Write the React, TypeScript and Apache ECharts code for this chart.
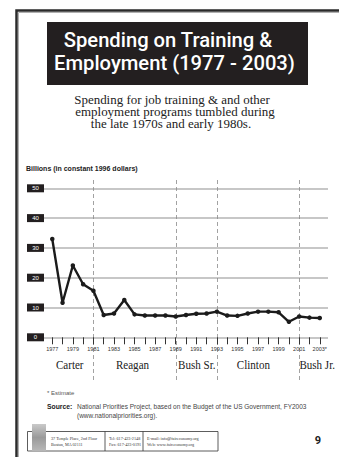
import React, { useEffect, useRef } from "react";
import * as echarts from "echarts";

const years = [1977, 1978, 1979, 1980, 1981, 1982, 1983, 1984, 1985, 1986, 1987, 1988, 1989, 1990, 1991, 1992, 1993, 1994, 1995, 1996, 1997, 1998, 1999, 2000, 2001, 2002, 2003];
const spending = [33.0, 11.6, 24.1, 17.8, 15.6, 7.5, 8.0, 12.5, 7.7, 7.3, 7.3, 7.3, 7.0, 7.5, 7.9, 8.0, 8.6, 7.3, 7.2, 8.0, 8.6, 8.6, 8.4, 5.2, 7.0, 6.6, 6.5];
const labeledYears = [1977, 1979, 1981, 1983, 1985, 1987, 1989, 1991, 1993, 1995, 1997, 1999, 2001, 2003];
const estimatedYears = [2003];
const presidents = ["Carter", "Reagan", "Bush Sr.", "Clinton", "Bush Jr."];
const presidentLabelYears = [1978.7, 1984.8, 1991.05, 1996.55, 2002.75];
const termBoundaries = [1981, 1989, 1993, 2001];

const titleLines = ["Spending on Training &", "Employment (1977 - 2003)"];
const subtitleLines = [
  "Spending for job training & and other",
  "employment programs tumbled during",
  "the late 1970s and early 1980s.",
];
const yAxisName = "Billions (in constant 1996 dollars)";
const noteText = "* Estimate";
const sourceLines = [
  "National Priorities Project, based on the Budget of the US Government, FY2003",
  "(www.nationalpriorities.org).",
];
const footerCols = [
  ["37 Temple Place, 2nd Floor", "Boston, MA 02111"],
  ["Tel: 617-423-2148", "Fax: 617-423-0191"],
  ["E-mail: info@faireconomy.org", "Web: www.faireconomy.org"],
];
const pageNumber = "9";

export default function App() {
  const ref = useRef<HTMLDivElement>(null);
  useEffect(() => {
    const chart = echarts.init(ref.current!, null, { renderer: "svg" });
    const narrow = "'Liberation Sans Narrow', 'Arial Narrow', sans-serif";
    const serif = "'Liberation Serif', 'DejaVu Serif', serif";
    chart.setOption({
      animation: false,
      grid: { left: 43, right: 11, top: 188.3, bottom: 119.7 },
      xAxis: {
        type: "value",
        min: 1976.1,
        max: 2003.8,
        axisLine: { show: false },
        splitLine: { show: false },
        axisTick: {
          show: true,
          length: 7,
          customValues: years,
          lineStyle: { color: "#333", width: 1 },
        },
        axisLabel: {
          customValues: labeledYears,
          margin: 9,
          fontFamily: narrow,
          fontSize: 5.5,
          color: "#333",
          formatter: (v: number) => (estimatedYears.includes(v) ? v + "*" : String(v)),
        },
      },
      yAxis: {
        type: "value",
        min: 0,
        max: 50,
        interval: 10,
        axisLine: { show: false },
        axisTick: { show: false },
        splitLine: { show: true, lineStyle: { color: "#b5b5b5", width: 1.6 } },
        axisLabel: {
          margin: -1,
          formatter: "{b|{value}}",
          backgroundColor: "#231f20",
          padding: [1, 4, 1, 4],
          rich: {
            b: {
              width: 9,
              align: "center",
              color: "#fff",
              fontFamily: narrow,
              fontSize: 6,
              lineHeight: 6,
            },
          },
        },
      },
      series: [
        {
          type: "line",
          data: years.map((y, i) => [y, spending[i]]),
          symbol: "circle",
          symbolSize: 4.5,
          lineStyle: { color: "#1b1b1b", width: 2.4 },
          itemStyle: { color: "#1b1b1b" },
        },
      ],
    });

    const px = (v: number) => chart.convertToPixel({ xAxisIndex: 0 }, v) as number;
    const els: any[] = [];
    // frame
    els.push({
      type: "polyline",
      shape: { points: [[18.5, 457], [18.5, 12.5], [339, 12.5]] },
      style: { stroke: "#b0b0b0", lineWidth: 1, fill: null },
    });
    els.push({
      type: "polyline",
      shape: { points: [[16.5, 457], [16.5, 10.5], [339, 10.5]] },
      style: { stroke: "#2b2b2b", lineWidth: 2.5, fill: null },
    });
    // title box
    els.push({ type: "rect", shape: { x: 47, y: 22, width: 261, height: 63 }, style: { fill: "#231f20" } });
    const titleX = [168, 174.5];
    titleLines.forEach((t, i) => {
      els.push({
        type: "text",
        x: titleX[i],
        y: 40 + i * 23.3,
        style: { text: t, fill: "#fff", fontFamily: "Roboto, sans-serif", fontWeight: 500, fontSize: 20.2, align: "center", verticalAlign: "middle" },
      });
    });
    const subX = [172, 175, 171];
    subtitleLines.forEach((t, i) => {
      els.push({
        type: "text",
        x: subX[i],
        y: 100.5 + i * 12,
        scaleX: 1.08,
        style: { text: t, fill: "#222", fontFamily: serif, fontSize: 12, align: "center", verticalAlign: "middle" },
      });
    });
    els.push({
      type: "text",
      x: 26,
      y: 168,
      style: { text: yAxisName, fill: "#222", fontFamily: narrow, fontWeight: "bold", fontSize: 7, align: "left", verticalAlign: "middle" },
    });
    termBoundaries.forEach((yr) => {
      const x = Math.round(px(yr)) + 0.5;
      els.push({
        type: "line",
        shape: { x1: x, y1: 180, x2: x, y2: 383 },
        style: { stroke: "#8a8a8a", lineWidth: 0.8, lineDash: [4, 3] },
      });
    });
    presidents.forEach((p, i) => {
      els.push({
        type: "text",
        x: px(presidentLabelYears[i]),
        y: 365,
        scaleX: 0.85,
        style: { text: p, fill: "#222", fontFamily: serif, fontSize: 13, align: "center", verticalAlign: "middle" },
      });
    });
    els.push({
      type: "text",
      x: 47,
      y: 392.5,
      style: { text: noteText, fill: "#555", fontFamily: narrow, fontSize: 6, align: "left", verticalAlign: "middle" },
    });
    els.push({
      type: "text",
      x: 47,
      y: 406.7,
      style: { text: "Source:", fill: "#222", fontFamily: narrow, fontWeight: "bold", fontSize: 6.8, align: "left", verticalAlign: "middle" },
    });
    sourceLines.forEach((t, i) => {
      els.push({
        type: "text",
        x: 77,
        y: 406.7 + i * 9,
        style: { text: t, fill: "#444", fontFamily: narrow, fontSize: 6.5, align: "left", verticalAlign: "middle" },
      });
    });
    // footer
    els.push({ type: "rect", shape: { x: 27.5, y: 431.5, width: 190.5, height: 19.5 }, style: { fill: null, stroke: "#333", lineWidth: 0.8 } });
    els.push({
      type: "rect",
      shape: { x: 32, y: 424, width: 14, height: 27 },
      style: {
        fill: new echarts.graphic.LinearGradient(0, 0, 0, 1, [
          { offset: 0, color: "#c9c9c9" },
          { offset: 0.5, color: "#9a9a9a" },
          { offset: 1, color: "#b8b8b8" },
        ]),
      },
    });
    [105, 143].forEach((x) => {
      els.push({ type: "line", shape: { x1: x, y1: 431.5, x2: x, y2: 451 }, style: { stroke: "#333", lineWidth: 0.8 } });
    });
    const colX = [51, 109, 147];
    footerCols.forEach((col, ci) => {
      col.forEach((t, li) => {
        els.push({
          type: "text",
          x: colX[ci],
          y: 438 + li * 6,
          style: { text: t, fill: "#333", fontFamily: serif, fontSize: 4.2, align: "left", verticalAlign: "middle" },
        });
      });
    });
    els.push({
      type: "text",
      x: 318,
      y: 440,
      style: { text: pageNumber, fill: "#222", fontFamily: "Roboto, sans-serif", fontWeight: "bold", fontSize: 11, align: "center", verticalAlign: "middle" },
    });
    chart.setOption({ graphic: { elements: els } });
    return () => chart.dispose();
  }, []);
  return (
    <div
      ref={ref}
      style={{ position: "fixed", left: 0, top: 0, width: 339, height: 457, background: "#fff" }}
    />
  );
}
